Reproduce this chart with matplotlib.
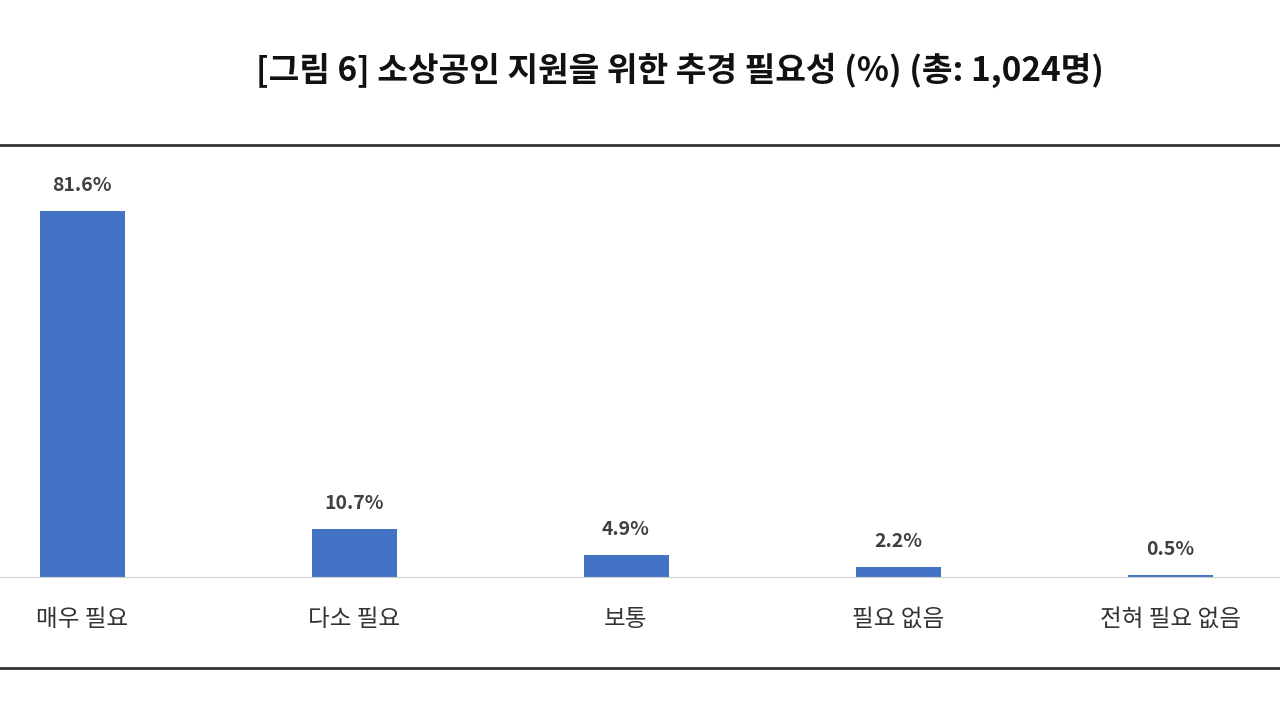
import matplotlib
matplotlib.use("Agg")
import matplotlib.pyplot as plt
from matplotlib.lines import Line2D

plt.rcParams['font.family'] = ['Noto Sans CJK KR', 'DejaVu Sans']

categories = ["매우 필요", "다소 필요", "보통", "필요 없음", "전혀 필요 없음"]
values = [81.6, 10.7, 4.9, 2.2, 0.5]
title = "[그림 6] 소상공인 지원을 위한 추경 필요성 (%) (총: 1,024명)"

fig = plt.figure(figsize=(12.8, 7.2), dpi=100)
ax = fig.add_axes([0, 1 - 577/720, 1, 432/720])
x = list(range(len(categories)))
ax.bar(x, values, width=0.3125, color="#4472C4")
ax.set_xlim(-82/272, (1280-82)/272)
ax.set_ylim(0, 432/4.485)
for i, v in zip(x, values):
    ax.text(i, v + 3.5, f"{v}%", ha="center", va="bottom", fontsize=14,
            fontweight="bold", color="#404040")
for s in ["top", "left", "right"]:
    ax.spines[s].set_visible(False)
ax.spines["bottom"].set_color("#d0d0d0")
ax.set_yticks([])
ax.set_xticks(x)
ax.set_xticklabels(categories, fontsize=17, color="#333333")
ax.tick_params(axis="x", length=0, pad=22)

fig.text(680/1280, 1 - 70/720, title, ha="center", va="center",
         fontsize=24, fontweight="bold", color="#111111")
fig.add_artist(Line2D([0, 1], [1 - 145/720]*2, color="#333333", lw=2))
fig.add_artist(Line2D([0, 1], [1 - 668/720]*2, color="#333333", lw=2))

fig.savefig("out.png", dpi=100)
